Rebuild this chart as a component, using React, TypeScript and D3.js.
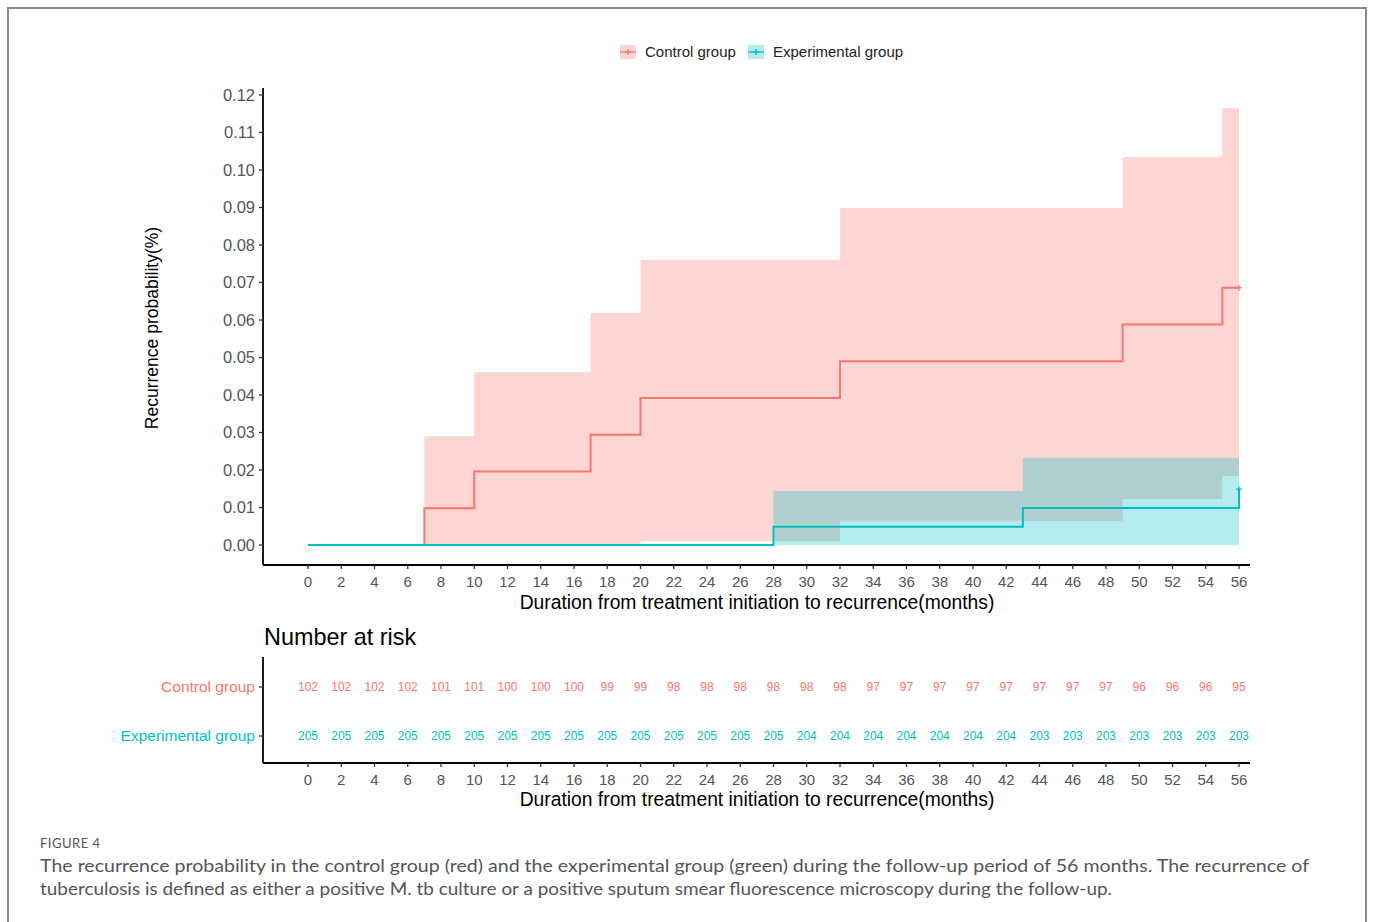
import * as d3 from "d3";

// step curve data
const ctrlTimes = [0, 7, 10, 17, 20, 32, 49, 55, 56];
const ctrlProb = [0, 0.0098, 0.0196, 0.0294, 0.0392, 0.049, 0.0588, 0.0686, 0.0686];
const ctrlBandTimes = [7, 10, 17, 20, 32, 49, 55, 56];
const ctrlUpper = [0.029, 0.0461, 0.0619, 0.076, 0.0899, 0.1035, 0.1165, 0.1165];
const ctrlLower = [0, 0, 0, 0.001, 0.0065, 0.0123, 0.0184, 0.0184];

const expTimes = [0, 28, 43, 56];
const expProb = [0, 0.0049, 0.0099, 0.0149];
const expBandTimes = [28, 43, 56];
const expUpper = [0.0144, 0.0233, 0.0233];
const expLower = [0, 0, 0];

const riskTimes = d3.range(0, 57, 2);
const ctrlRisk = [102, 102, 102, 102, 101, 101, 100, 100, 100, 99, 99, 98, 98, 98, 98, 98, 98, 97, 97, 97, 97, 97, 97, 97, 97, 96, 96, 96, 95];
const expRisk = [205, 205, 205, 205, 205, 205, 205, 205, 205, 205, 205, 205, 205, 205, 205, 204, 204, 204, 204, 204, 204, 204, 203, 203, 203, 203, 203, 203, 203];
const groups = ["Control group", "Experimental group"];
const yTicks = d3.range(0, 0.1201, 0.01);

const RED = "#F8766D";
const CYAN = "#00BFC4";
const FONT = "Liberation Sans, Arial, sans-serif";

export default function App() {
  const x = d3.scaleLinear().domain([0, 56]).range([308, 1239]);
  const y = d3.scaleLinear().domain([0, 0.12]).range([545, 95]);
  const riskY = d3.scalePoint().domain(groups).range([687, 736]);

  const line = d3
    .line<[number, number]>()
    .x((d) => x(d[0]))
    .y((d) => y(d[1]))
    .curve(d3.curveStepAfter);

  const area = d3
    .area<[number, number, number]>()
    .x((d) => x(d[0]))
    .y0((d) => y(d[1]))
    .y1((d) => y(d[2]))
    .curve(d3.curveStepAfter);

  const ctrlLine = line(ctrlTimes.map((t, i) => [t, ctrlProb[i]]));
  const expLine = line(expTimes.map((t, i) => [t, expProb[i]]));
  const ctrlArea = area(ctrlBandTimes.map((t, i) => [t, ctrlLower[i], ctrlUpper[i]]));
  const expArea = area(expBandTimes.map((t, i) => [t, expLower[i], expUpper[i]]));

  const axisY = 565;
  const riskAxisY = 763;

  const xAxis = (yy: number, labelY: number, titleY: number) => (
    <g>
      <line x1={263} x2={1250} y1={yy} y2={yy} stroke="#000" strokeWidth={1.8} />
      {riskTimes.map((t) => (
        <g key={t}>
          <line x1={x(t)} x2={x(t)} y1={yy} y2={yy + 4} stroke="#333" strokeWidth={1.3} />
          <text x={x(t)} y={labelY} textAnchor="middle" fontSize={15} fill="#555">
            {t}
          </text>
        </g>
      ))}
      <text x={757} y={titleY} textAnchor="middle" fontSize={19.3} fill="#000">
        Duration from treatment initiation to recurrence(months)
      </text>
    </g>
  );

  const censor = (cx: number, cy: number, color: string) => (
    <g stroke={color} strokeWidth={1.3}>
      <line x1={cx - 3} x2={cx + 3} y1={cy} y2={cy} />
      <line x1={cx} x2={cx} y1={cy - 3} y2={cy + 3} />
    </g>
  );

  return (
    <svg
      width={1373}
      height={922}
      style={{ position: "absolute", left: 0, top: 0, background: "#fff", fontFamily: FONT }}
    >
      <path d="M8,922 V8 H1366 V922" fill="none" stroke="#8a8a8a" strokeWidth={2} />

      {/* legend */}
      {groups.map((g, i) => {
        const kx = [620, 748][i];
        const color = [RED, CYAN][i];
        return (
          <g key={g}>
            <rect x={kx} y={45} width={16} height={14} fill={color} fillOpacity={0.3} />
            {censor(kx + 8, 52, color)}
            <line x1={kx} x2={kx + 16} y1={52} y2={52} stroke={color} strokeWidth={1.3} />
            <text x={kx + 25} y={57} fontSize={15} fill="#222">
              {g}
            </text>
          </g>
        );
      })}

      {/* bands and curves */}
      <path d={ctrlArea ?? ""} fill={RED} fillOpacity={0.3} />
      <path d={expArea ?? ""} fill={CYAN} fillOpacity={0.3} />
      <path d={ctrlLine ?? ""} fill="none" stroke={RED} strokeWidth={2} />
      <path d={expLine ?? ""} fill="none" stroke={CYAN} strokeWidth={2} />
      {censor(x(56), y(ctrlProb[ctrlProb.length - 1]), RED)}
      {censor(x(56), y(expProb[expProb.length - 1]), CYAN)}

      {/* y axis */}
      <line x1={263} x2={263} y1={88} y2={axisY} stroke="#000" strokeWidth={1.8} />
      {yTicks.map((v) => (
        <g key={v}>
          <line x1={259} x2={263} y1={y(v)} y2={y(v)} stroke="#333" strokeWidth={1.3} />
          <text x={255} y={y(v) + 5.5} textAnchor="end" fontSize={16.5} fill="#555">
            {v.toFixed(2)}
          </text>
        </g>
      ))}
      <text
        transform={`translate(158,${328}) rotate(-90)`}
        textAnchor="middle"
        fontSize={17.5}
        fill="#000"
      >
        Recurrence probability(%)
      </text>

      {xAxis(axisY, 587, 609)}

      {/* risk table */}
      <text x={264} y={645} fontSize={23.4} fill="#000">
        Number at risk
      </text>
      <line x1={263} x2={263} y1={657} y2={riskAxisY} stroke="#000" strokeWidth={1.8} />
      {groups.map((g, gi) => {
        const color = [RED, CYAN][gi];
        const vals = [ctrlRisk, expRisk][gi];
        const ry = riskY(g) ?? 0;
        return (
          <g key={g}>
            <line x1={259} x2={263} y1={ry} y2={ry} stroke="#333" strokeWidth={1.3} />
            <text x={255} y={ry + 5} textAnchor="end" fontSize={15.5} fill={color}>
              {g}
            </text>
            {riskTimes.map((t, i) => (
              <text key={t} x={x(t)} y={ry + 4} textAnchor="middle" fontSize={12} fill={color}>
                {vals[i]}
              </text>
            ))}
          </g>
        );
      })}
      {xAxis(riskAxisY, 785, 806)}

      {/* caption */}
      <text x={40} y={848} fontSize={13} fill="#555" fontFamily="Lato, 'Open Sans', sans-serif" letterSpacing={0.5}>
        FIGURE 4
      </text>
      <text
        x={40}
        y={872}
        fontSize={18}
        fill="#555"
        fontFamily="Lato, 'Open Sans', sans-serif"
        textLength={1269}
        lengthAdjust="spacingAndGlyphs"
      >
        The recurrence probability in the control group (red) and the experimental group (green) during the follow-up period of 56 months. The recurrence of
      </text>
      <text
        x={40}
        y={895}
        fontSize={18}
        fill="#555"
        fontFamily="Lato, 'Open Sans', sans-serif"
        textLength={1072}
        lengthAdjust="spacingAndGlyphs"
      >
        tuberculosis is defined as either a positive M. tb culture or a positive sputum smear fluorescence microscopy during the follow-up.
      </text>
    </svg>
  );
}
